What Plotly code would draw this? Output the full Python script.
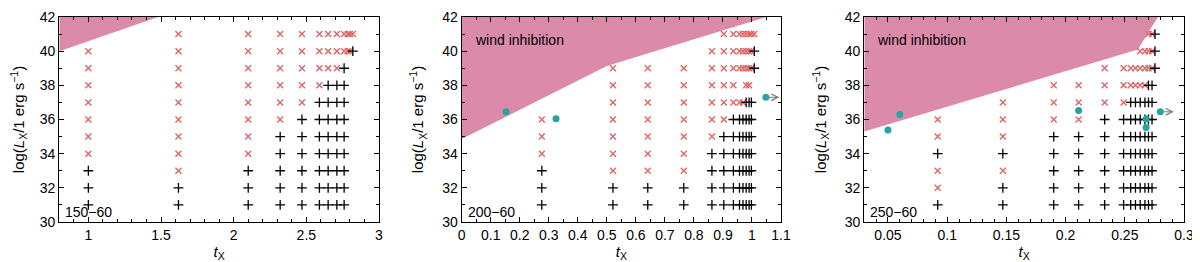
import plotly.graph_objects as go

# ---------------- data ----------------
L_GRID = [31, 32, 33, 34, 35, 36, 37, 38, 39, 40, 41]   # log L_X rows

# column t_X values and marker pattern per row (L=31..41): '+' stable, 'x' unstable, '.' none
P1_TX = [1.00, 1.62, 2.10, 2.32, 2.47, 2.59, 2.65, 2.71, 2.76, 2.785, 2.80, 2.82]
P1_PAT = ["+++xxxxxxx.", "++xxxxxxxxx", "+++xxxxxxxx", "+++++xxxxxx",
          "++++++xxxxx", "+++++++xxxx", "++++++++xxx", "++++++++xxx",
          "+++++++++xx", ".........xx", ".........xx", ".........+x"]

P2_TX = [0.276, 0.521, 0.641, 0.765, 0.862, 0.903, 0.936, 0.957, 0.969, 0.980, 0.990, 0.998, 1.008]
P2_PAT = ["+++xxx.....", "++xxxxxxx..", "++xxxxxxx..", "++xxxxxxx..",
          "++++xxxxxx.", "+++++xxxxxx", "++++++xxxxx", "++++++x.xxx",
          "++++++x.xxx", "+++++++xxxx", "+++++++xxxx", "+++++++.xxx", "........++x"]

P3_TX = [0.092, 0.147, 0.190, 0.211, 0.233, 0.249, 0.255, 0.259, 0.263, 0.267, 0.270, 0.273, 0.2755]
P3_PAT = ["+xx+xx.....", "++x+xxx....", "+++++xxx...", "+++++xxx...",
          "++++++xxx..", "++++++xxx..", "+++++++xx..", "+++++++xx..",
          "+++++++xxx.", "+++++++xxx.", "++++++++xxx", "++++++++xxx", "........+++"]

# observed systems (cyan)
P2_OBS_TX = [0.153, 0.325, 1.048]
P2_OBS_L = [36.45, 36.05, 37.3]
P2_OBS_LOWER = [False, False, True]   # lower limit on t_X (arrow)
P3_OBS_TX = [0.050, 0.060, 0.211, 0.268, 0.268, 0.280]
P3_OBS_L = [35.38, 36.30, 36.53, 36.03, 35.53, 36.45]
P3_OBS_LOWER = [False, False, False, False, False, True]

# wind-inhibition boundary
P1_WB_TX = [0.80, 1.48]
P1_WB_L = [40.0, 42.0]
P2_WB_TX = [0.0, 0.50, 1.05]
P2_WB_L = [34.86, 39.13, 42.0]
P3_WB_TX = [0.03, 0.261, 0.278]
P3_WB_L = [35.3, 40.1, 42.0]

LABELS = ["150−60", "200−60", "250−60"]
X_RANGES = [[0.8, 3.0], [0.0, 1.1], [0.03, 0.3]]
X_DTICK = [0.5, 0.1, 0.05]
X_MINOR = [0.1, 0.05, 0.01]
Y_RANGE = [30, 42]

# ---------------- style ----------------
PINK = "rgb(219,138,170)"
RED = "rgb(222,98,98)"
CYAN = "rgb(38,163,163)"
FONT = "Liberation Sans, Arial, sans-serif"
W, H = 1192, 254
DOMAINS = [[51.3 / W, 371.0 / W], [453.7 / W, 773.0 / W], [856.3 / W, 1176.0 / W]]

fig = go.Figure()

panels = [
    (P1_TX, P1_PAT, None, None, None, P1_WB_TX, P1_WB_L, False),
    (P2_TX, P2_PAT, P2_OBS_TX, P2_OBS_L, P2_OBS_LOWER, P2_WB_TX, P2_WB_L, True),
    (P3_TX, P3_PAT, P3_OBS_TX, P3_OBS_L, P3_OBS_LOWER, P3_WB_TX, P3_WB_L, True),
]

for i, (tx, pat, otx, oL, olow, wbx, wbl, wind_text) in enumerate(panels):
    xa = "x" if i == 0 else f"x{i+1}"
    ya = "y" if i == 0 else f"y{i+1}"
    xr = X_RANGES[i]
    # shaded region
    poly_x = list(wbx) + [xr[0], xr[0]]
    poly_y = list(wbl) + [Y_RANGE[1], wbl[0]]
    fig.add_trace(go.Scatter(x=poly_x, y=poly_y, mode="lines", fill="toself",
                             fillcolor=PINK, line=dict(width=0, color=PINK),
                             xaxis=xa, yaxis=ya, showlegend=False, hoverinfo="skip"))
    px, py, cx, cy = [], [], [], []
    for t, p in zip(tx, pat):
        for L, c in zip(L_GRID, p):
            if c == "+":
                px.append(t); py.append(L)
            elif c == "x":
                cx.append(t); cy.append(L)
    fig.add_trace(go.Scatter(x=cx, y=cy, mode="markers", xaxis=xa, yaxis=ya,
                             marker=dict(symbol="x-thin", size=6,
                                         line=dict(width=1.3, color=RED)),
                             showlegend=False))
    fig.add_trace(go.Scatter(x=px, y=py, mode="markers", xaxis=xa, yaxis=ya,
                             marker=dict(symbol="cross-thin", size=7,
                                         line=dict(width=1.3, color="black")),
                             showlegend=False))
    if otx is not None:
        fig.add_trace(go.Scatter(x=otx, y=oL, mode="markers", xaxis=xa, yaxis=ya,
                                 marker=dict(symbol="circle", size=7, color=CYAN),
                                 showlegend=False))
        span = xr[1] - xr[0]
        for t, L, low in zip(otx, oL, olow):
            if low:
                fig.add_annotation(x=t + 0.042 * span, y=L, ax=t, ay=L,
                                   xref=xa, yref=ya, axref=xa, ayref=ya,
                                   showarrow=True, arrowhead=5, arrowsize=1.3,
                                   arrowwidth=1, arrowcolor="rgb(120,120,120)", text=" ")
    if wind_text:
        fig.add_annotation(x=0.035, y=0.89, xref=f"{xa} domain", yref=f"{ya} domain",
                           text="wind inhibition", showarrow=False,
                           xanchor="left", yanchor="middle",
                           font=dict(family=FONT, size=14, color="black"))
    fig.add_annotation(x=0.012, y=0.05, xref=f"{xa} domain", yref=f"{ya} domain",
                       text=LABELS[i], showarrow=False, xanchor="left", yanchor="middle",
                       font=dict(family=FONT, size=14, color="black"))

    axis_common = dict(showline=True, linecolor="black", linewidth=1.2, mirror="allticks",
                       ticks="inside", ticklen=5, tickwidth=1, tickcolor="black",
                       showgrid=False, zeroline=False, ticklabeloverflow="allow",
                       tickfont=dict(family=FONT, size=14, color="black"),
                       automargin=False)
    xkey = "xaxis" if i == 0 else f"xaxis{i+1}"
    ykey = "yaxis" if i == 0 else f"yaxis{i+1}"
    fig.update_layout(**{
        xkey: dict(domain=DOMAINS[i], range=xr, dtick=X_DTICK[i], tick0=0,
                   anchor=ya,
                   minor=dict(dtick=X_MINOR[i], ticks="inside", ticklen=3,
                              tickcolor="black", showgrid=False),
                   title=dict(text="<i>t</i><sub>X</sub>", standoff=4,
                              font=dict(family=FONT, size=15, color="black")),
                   **axis_common),
        ykey: dict(domain=[0, 1], range=Y_RANGE, dtick=2, anchor=xa,
                   minor=dict(dtick=1, ticks="inside", ticklen=3,
                              tickcolor="black", showgrid=False),
                   title=dict(text="log(<i>L</i><sub>X</sub>/1 erg s<sup>−1</sup>)",
                              standoff=14,
                              font=dict(family=FONT, size=15, color="black")),
                   **axis_common),
    })

fig.update_layout(width=W, height=H, template="none",
                  margin=dict(l=0, r=0, t=9, b=40),
                  paper_bgcolor="white", plot_bgcolor="white",
                  font=dict(family=FONT, color="black"))

fig.write_html("out.html")
